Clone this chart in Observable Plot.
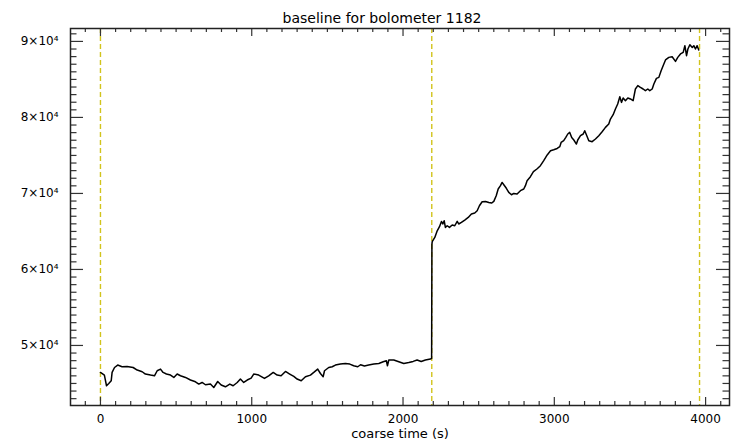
<!DOCTYPE html>
<html>
<head>
<meta charset="utf-8">
<script src="https://cdn.jsdelivr.net/npm/d3@7"></script>
<script src="https://cdn.jsdelivr.net/npm/@observablehq/plot@0.6"></script>
<style>
  html, body { margin: 0; padding: 0; background: #fff; }
</style>
</head>
<body>
<div id="chart"></div>
<script>
// Coarse time (s) of each baseline sample
const time = [
  0, 26, 40, 55, 71, 77, 93, 114, 143, 176, 216, 243, 276, 297, 331, 357, 375, 397, 414, 436,
  463, 485, 507, 529, 562, 595, 628, 650, 672, 694, 727, 749, 775, 798, 826, 855, 877, 904, 925, 947,
  970, 996, 1013, 1046, 1084, 1112, 1142, 1168, 1194, 1223, 1251, 1278, 1300, 1327, 1355, 1388, 1410, 1436, 1454, 1472,
  1481, 1509, 1532, 1553, 1586, 1619, 1648, 1674, 1701, 1719, 1745, 1773, 1807, 1840, 1869, 1890, 1897, 1906, 1939, 1972,
  2005, 2038, 2067, 2093, 2120, 2148, 2181, 2189, 2191, 2193, 2210, 2226, 2241, 2254, 2263, 2272, 2280, 2292, 2307, 2325,
  2342, 2358, 2368, 2386, 2408, 2431, 2452, 2474, 2490, 2505, 2523, 2545, 2567, 2585, 2600, 2616, 2629, 2644, 2655, 2666,
  2682, 2699, 2717, 2732, 2754, 2776, 2798, 2809, 2820, 2842, 2862, 2887, 2908, 2930, 2953, 2975, 2996, 3019, 3036, 3045,
  3062, 3076, 3089, 3102, 3115, 3129, 3146, 3155, 3173, 3191, 3201, 3212, 3228, 3250, 3272, 3294, 3316, 3338, 3360, 3371,
  3389, 3404, 3419, 3433, 3444, 3455, 3470, 3486, 3503, 3521, 3536, 3552, 3569, 3587, 3602, 3618, 3631, 3647, 3658, 3675,
  3691, 3706, 3724, 3735, 3757, 3779, 3801, 3816, 3834, 3852, 3863, 3874, 3883, 3896, 3912, 3922, 3933, 3944, 3955
];

// Baseline level of bolometer 1182 at each sample
const baseline = [
  46450, 46100, 44700, 45000, 45350, 46450, 47100, 47420, 47200, 47240, 47100, 46760, 46540, 46240, 46100, 46010, 46670, 46890, 46450, 46240,
  46100, 45790, 46240, 46010, 45790, 45450, 45220, 44920, 45130, 44830, 44920, 44470, 45260, 44790, 44560, 44920, 44700, 45130, 45580, 45130,
  45450, 45710, 46240, 46100, 45660, 46010, 46450, 46100, 46010, 46580, 46240, 45920, 45580, 45350, 45880, 46100, 46450, 46890, 46310, 45880,
  46670, 47100, 47200, 47420, 47550, 47630, 47550, 47330, 47200, 47460, 47290, 47420, 47550, 47630, 47850, 47990, 47330, 48080, 48080, 47850,
  47630, 47760, 47900, 48080, 47900, 48080, 48210, 48300, 63300, 63650, 64210, 65090, 65620, 66320, 65980, 66410, 65530, 65750, 65530, 65840,
  65750, 66320, 65980, 66190, 66500, 66840, 67290, 67420, 67730, 68380, 68910, 68950, 68820, 68740, 68950, 69700, 70580, 71020, 71450, 71150,
  70710, 70130, 69830, 70000, 69920, 70360, 70580, 71020, 71670, 72200, 72860, 73250, 73650, 74310, 75060, 75620, 75750, 75920, 76150, 76710,
  76940, 77370, 77820, 78030, 77370, 77030, 76500, 77030, 77600, 77820, 78250, 77730, 76940, 76810, 77160, 77600, 78120, 78690, 79130, 79790,
  80360, 81110, 81770, 82730, 81980, 82560, 82200, 82560, 82430, 82200, 83740, 84180, 83950, 83740, 83520, 83740, 83520, 83740, 84400, 85140,
  85270, 86150, 87030, 87560, 87900, 87990, 87380, 87900, 88350, 88560, 89440, 88120, 89000, 89570, 89210, 89440, 89000, 89440, 88870
];

// Segment boundaries marked by dashed lines
const markers = [0, 2190, 3960];

// Labelled ticks
const xTicks = [0, 1000, 2000, 3000, 4000];
const yTicks = [50000, 60000, 70000, 80000, 90000];

const titleText = "baseline for bolometer 1182";
const xLabel = "coarse time (s)";

const W = 743, H = 447;
const M = {top: 28, right: 14, bottom: 42, left: 70};
const innerW = W - M.left - M.right;
const innerH = H - M.top - M.bottom;

// x range padded by 5% of the marked span on both sides
const span = markers[2] - markers[0];
const xDomain = [markers[0] - 0.05 * span, markers[2] + 0.05 * span];
const yDomain = [42100, 91700];

// minor tick positions
const xMinor = d3.range(-100, 4101, 100).filter(d => !xTicks.includes(d));
const yMinor = d3.range(43000, 91001, 1000).filter(d => !yTicks.includes(d));

const rows = time.map((t, i) => ({t, v: baseline[i]}));

const supDigits = {"0":"⁰","1":"¹","2":"²","3":"³","4":"⁴","5":"⁵","6":"⁶","7":"⁷","8":"⁸","9":"⁹"};
const sci = d => {
  const e = Math.floor(Math.log10(d));
  const m = Math.round(d / Math.pow(10, e));
  return `${m}×10${String(e).split("").map(c => supDigits[c]).join("")}`;
};

const tickColor = "#333";
const majX = 8, minX = 4, majY = 13, minY = 6.5;

const chart = Plot.plot({
  width: W,
  height: H,
  marginTop: M.top,
  marginRight: M.right,
  marginBottom: M.bottom,
  marginLeft: M.left,
  style: {fontFamily: "DejaVu Sans, sans-serif", fontSize: "12px", color: "#000", background: "#fff"},
  x: {domain: xDomain},
  y: {domain: yDomain},
  marks: [
    Plot.ruleX(markers, {x: d => d, stroke: "#d2c41c", strokeWidth: 1.4, strokeDasharray: "5,3"}),
    Plot.line(rows, {x: "t", y: "v", stroke: "#000", strokeWidth: 1.5}),
    // bottom and top ticks
    Plot.tickX(xTicks, {x: d => d, insetTop: innerH - majX, stroke: tickColor, strokeWidth: 1.2}),
    Plot.tickX(xMinor, {x: d => d, insetTop: innerH - minX, stroke: tickColor, strokeWidth: 1.2}),
    Plot.tickX(xTicks, {x: d => d, insetBottom: innerH - majX, stroke: tickColor, strokeWidth: 1.2}),
    Plot.tickX(xMinor, {x: d => d, insetBottom: innerH - minX, stroke: tickColor, strokeWidth: 1.2}),
    // left and right ticks
    Plot.tickY(yTicks, {y: d => d, insetRight: innerW - majY, stroke: tickColor, strokeWidth: 1.2}),
    Plot.tickY(yMinor, {y: d => d, insetRight: innerW - minY, stroke: tickColor, strokeWidth: 1.2}),
    Plot.tickY(yTicks, {y: d => d, insetLeft: innerW - majY, stroke: tickColor, strokeWidth: 1.2}),
    Plot.tickY(yMinor, {y: d => d, insetLeft: innerW - minY, stroke: tickColor, strokeWidth: 1.2}),
    Plot.frame({stroke: "#222", strokeWidth: 1.5}),
    Plot.axisX(xTicks, {tickSize: 0, tickPadding: 9, tickFormat: d => String(d), label: null, fontSize: 12}),
    Plot.axisY(yTicks, {tickSize: 0, tickPadding: 12, tickFormat: sci, label: null, fontSize: 12}),
    Plot.text([titleText], {text: d => d, frameAnchor: "top", dx: -18, dy: -15, fontSize: 14}),
    Plot.text([xLabel], {text: d => d, frameAnchor: "bottom", dy: 32, fontSize: 13})
  ]
});

document.getElementById("chart").appendChild(chart);
</script>
</body>
</html>
